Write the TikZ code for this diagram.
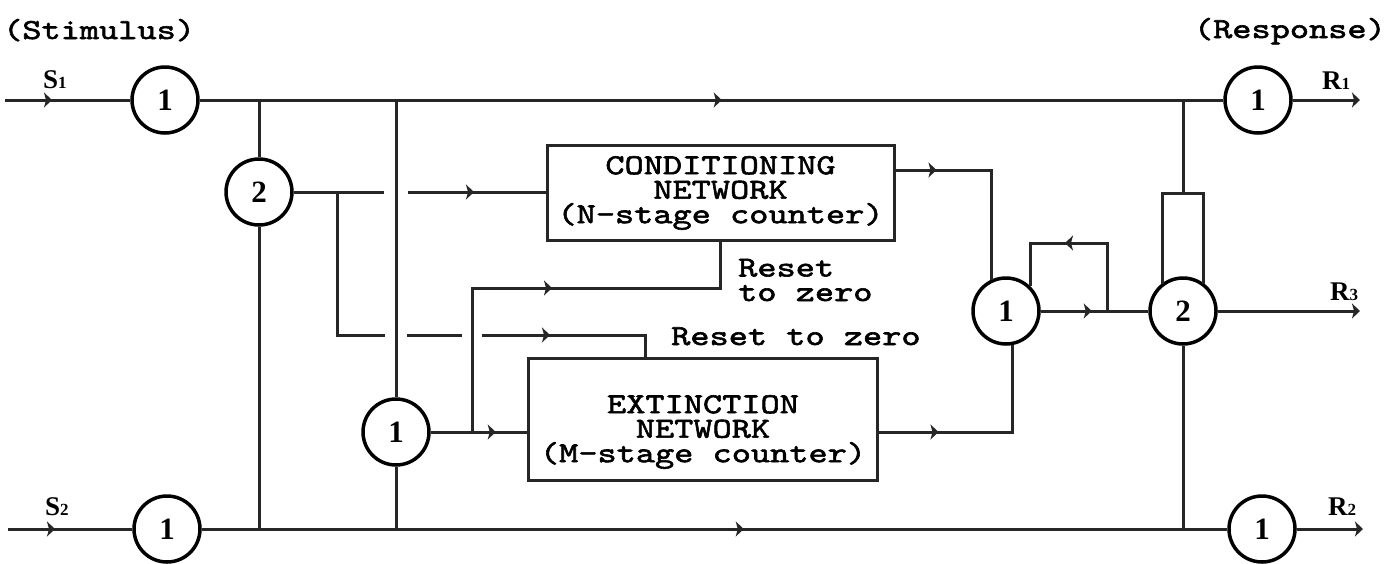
\documentclass[tikz,border=0pt]{standalone}
\usepackage{fontspec}
\newfontfamily\monof{lmmono10-regular}[Extension=.otf, FakeStretch=1.26, FakeBold=2]
\newfontfamily\seriff{Liberation Serif}
\usetikzlibrary{arrows.meta,decorations.markings,calc}
\setlength{\lineskiplimit}{-100pt}
\tikzset{
  wire/.style={line width=3pt, draw=black!85, line join=miter},
  neuron/.style={circle, draw=black, line width=3.5pt, minimum size=66pt, inner sep=0pt,
    font=\seriff\bfseries\fontsize{31}{31}\selectfont},
  netbox/.style={draw=black!85, line width=3pt, rectangle, inner sep=0pt},
  mono/.style={inner sep=0pt, font=\monof\fontsize{29}{24.5}\selectfont},
  lab/.style={inner sep=0pt, font=\seriff\bfseries\fontsize{27}{27}\selectfont},
  midarr/.style={postaction={decorate}, decoration={markings,
    mark=at position #1 with {\arrow{Stealth[length=8pt,width=15pt,inset=2pt]}}}},
  endarr/.style={-{Stealth[length=8pt,width=15pt,inset=2pt]}},
}
\newcommand{\sub}[1]{{\fontsize{17}{17}\selectfont #1}}
\begin{document}
\begin{tikzpicture}[x=1pt,y=-1pt]
\useasboundingbox (0,0) rectangle (1389,563);

% neurons
\node[neuron] (s1n) at (165,100) {1};
\node[neuron] (s2n) at (167,529) {1};
\node[neuron] (and) at (259,192) {2};
\node[neuron] (ext1) at (396,432) {1};
\node[neuron] (mid) at (1006,311) {1};
\node[neuron] (out2) at (1183,311) {2};
\node[neuron] (r1n) at (1258,100) {1};
\node[neuron] (r2n) at (1262,529) {1};

% boxes
\node[netbox, minimum width=347pt, minimum height=95pt] (cond) at (720.5,192.5) {};
\node[mono, align=center] (condtxt) at (720.5,193) {CONDITIONING\\NETWORK\\(N-stage counter)};
\node[netbox, minimum width=349pt, minimum height=122pt] (extb) at (702.5,419) {};
\node[mono, align=center] (exttxt) at (703,432) {EXTINCTION\\NETWORK\\(M-stage counter)};

% texts
\node[mono, anchor=base west] (stim) at (3,39) {(Stimulus)};
\node[mono, anchor=base east] (resp) at (1386,38) {(Response)};
\node[mono, anchor=base west] (rst2) at (671,345) {Reset to zero};
\node[mono, align=left, anchor=west] (rst1) at (738,280) {Reset\\to zero};

\node[lab, anchor=base west] (s1l) at (43,88) {S\sub{1}};
\node[lab, anchor=base west] (s2l) at (45,515) {S\sub{2}};
\node[lab, anchor=base west] (r1l) at (1322,89) {R\sub{1}};
\node[lab, anchor=base west] (r3l) at (1330,300) {R\sub{3}};
\node[lab, anchor=base west] (r2l) at (1328,515) {R\sub{2}};

% coordinates
\coordinate (s1in) at (5,100);
\coordinate (s2in) at (8,529);
\coordinate (r1end) at (1360,100);
\coordinate (r2end) at (1363,529);
\coordinate (r3end) at (1360,311);
\coordinate (jA) at (259,100);
\coordinate (jB) at (396,100);
\coordinate (jC) at (1183,100);
\coordinate (jD) at (259,529);
\coordinate (jE) at (396,529);
\coordinate (jF) at (1183,529);
\coordinate (forkL) at (1162,193);
\coordinate (forkR) at (1203,193);
\coordinate (fork) at (1183,193);
\coordinate (g1a) at (384,192);
\coordinate (g1b) at (408,192);
\coordinate (b0) at (337,192);
\coordinate (b1) at (337,335);
\coordinate (g2a) at (385,335);
\coordinate (g2b) at (407,335);
\coordinate (g3a) at (462,335);
\coordinate (g3b) at (482,335);
\coordinate (b2) at (645,335);
\coordinate (k0) at (472,432);
\coordinate (k1) at (472,288);
\coordinate (k2) at (720.5,288);
\coordinate (h170) at (0,170);
\coordinate (l0) at (1107,311);
\coordinate (l1) at (1107,243);

% stimulus / response lines
\draw[wire, midarr=47pt] (s1in) -- (s1n);
\draw[wire, midarr=522pt] (s1n) -- (r1n);
\draw[wire, endarr] (r1n) -- (r1end);
\draw[wire, midarr=47pt] (s2in) -- (s2n);
\draw[wire, midarr=542pt] (s2n) -- (r2n);
\draw[wire, endarr] (r2n) -- (r2end);

% verticals
\draw[wire] (jA) -- (and);
\draw[wire] (and) -- (jD);
\draw[wire] (jB) -- (ext1);
\draw[wire] (ext1) -- (jE);
\draw[wire] (jC) -- (fork);
\draw[wire] (forkL |- out2.128) -- (forkL) -- (forkR) -- (forkR |- out2.52);
\draw[wire] (out2) -- (jF);

% AND output to conditioning network
\draw[wire] (and) -- (g1a);
\draw[wire, midarr=66pt] (g1b) -- (cond.west |- g1b);
% branch to reset extinction
\draw[wire] (b0) -- (b1) -- (g2a);
\draw[wire] (g2b) -- (g3a);
\draw[wire, midarr=68pt] (g3b) -- (b2) -- (b2 |- extb.north);

% S2-only neuron to extinction network and reset of conditioning
\draw[wire, midarr=65pt] (ext1) -- (extb.west |- ext1);
\draw[wire, midarr=224pt] (k0) -- (k1) -- (k2) -- (cond.south);

% network outputs
\draw[wire, midarr=41pt] (cond.east |- h170) -| (mid.115);
\draw[wire, midarr=60pt] (extb.east |- ext1) -| (mid.-80);

% middle neuron to response
\draw[wire, midarr=51pt] (mid) -- (out2);
\draw[wire, midarr=110pt] (l0) -- (l1) -| (mid.45);
\draw[wire, endarr] (out2) -- (r3end);
\end{tikzpicture}
\end{document}
